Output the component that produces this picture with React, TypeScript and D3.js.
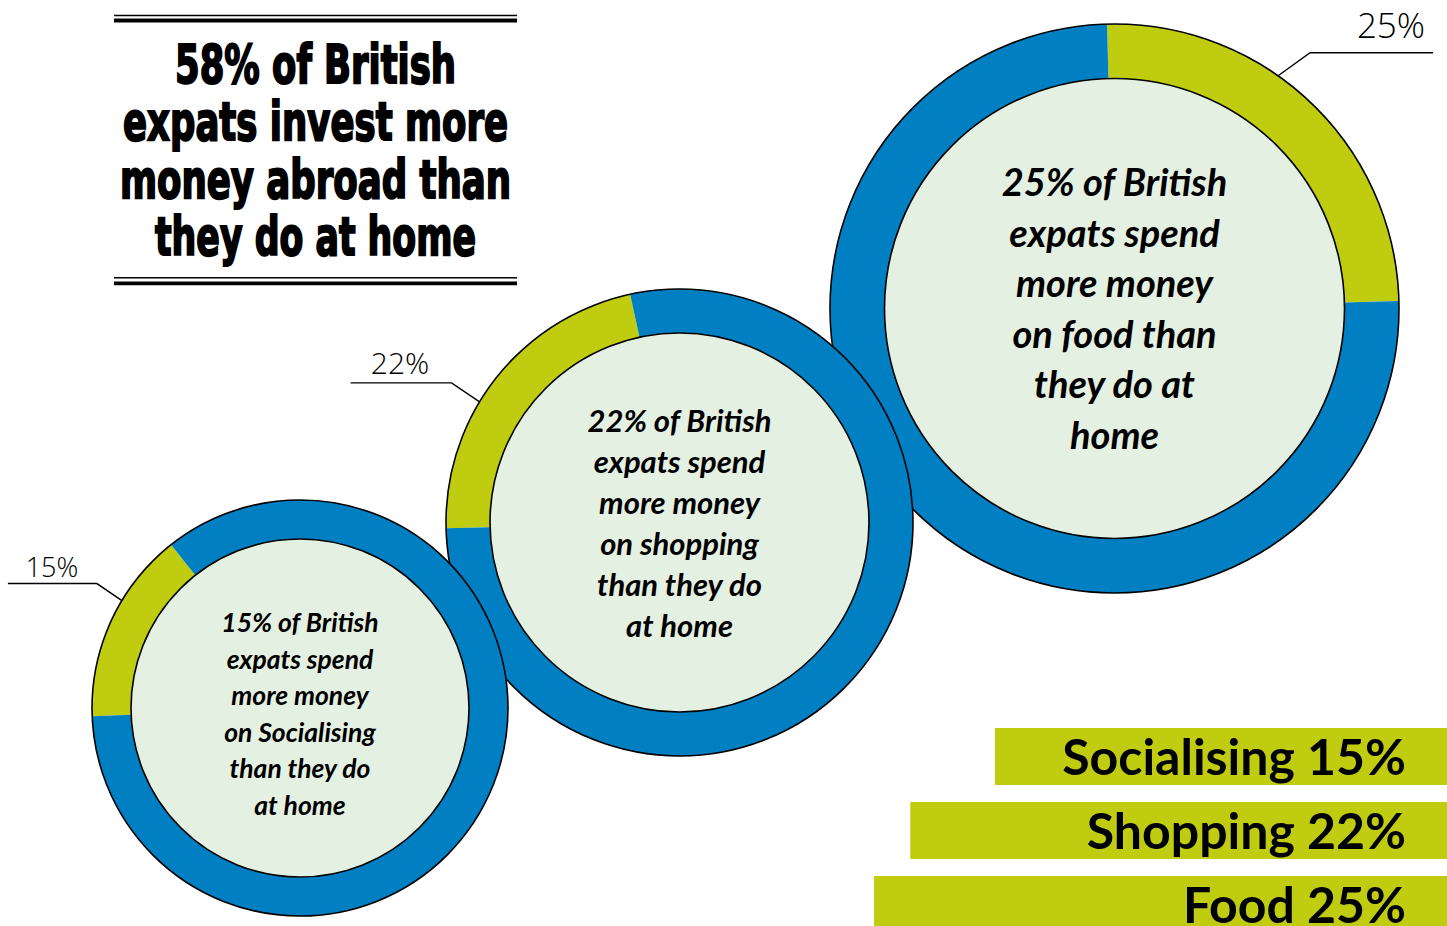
import { useEffect, useRef } from 'react';
import * as d3 from 'd3';

// data
const categories = ["Socialising", "Shopping", "Food"];
const values = [15, 22, 25];
const centreTexts = [
  ["15% of British", "expats spend", "more money", "on Socialising", "than they do", "at home"],
  ["22% of British", "expats spend", "more money", "on shopping", "than they do", "at home"],
  ["25% of British", "expats spend", "more money", "on food than", "they do at", "home"],
];
const titleLines = ["58% of British", "expats invest more", "money abroad than", "they do at home"];

const GREEN = "#BFCC10";
const BLUE = "#0080C3";
const INNER = "#E4F0E1";

// layout of the three donuts (small, middle, large)
const donuts = [
  { cx: 300, cy: 708, outer: 208, inner: 169, start: -92.3, font: 26.5, lineH: 36.5, firstBase: 632, labelAngle: -58.9, elbow: [-25, -17], tail: -89, labelFont: 27, labelX: 52, labelY: 577 },
  { cx: 679.5, cy: 522.5, outer: 233.5, inner: 189.5, start: -91.4, font: 31, lineH: 41, firstBase: 432, labelAngle: -58.9, elbow: [-28, -19], tail: -101, labelFont: 30, labelX: 400, labelY: 374 },
  { cx: 1114.5, cy: 308.5, outer: 284.5, inner: 230, start: -1.5, font: 38, lineH: 50.5, firstBase: 196, labelAngle: 35.1, elbow: [32, -23], tail: 123, labelFont: 35, labelX: 1391, labelY: 38 },
];

export default function App() {
  const svgRef = useRef<SVGSVGElement>(null);

  useEffect(() => {
    if (!svgRef.current) return;
    document.body.style.margin = "0";
    const svg = d3.select(svgRef.current);
    svg.selectAll("*").remove();

    const rad = (deg: number) => (deg * Math.PI) / 180;

    // Draw large first so smaller donuts sit on top
    [2, 1, 0].forEach(i => {
      const d = donuts[i];
      const g = svg.append("g").attr("transform", `translate(${d.cx},${d.cy})`);
      const pie = d3.pie<number>()
        .sort(null)
        .value(v => v)
        .startAngle(rad(d.start))
        .endAngle(rad(d.start) + 2 * Math.PI);
      const arc = d3.arc<d3.PieArcDatum<number>>()
        .innerRadius(d.inner)
        .outerRadius(d.outer);

      g.selectAll("path.seg")
        .data(pie([values[i], 100 - values[i]]))
        .enter()
        .append("path")
        .attr("class", "seg")
        .attr("d", arc)
        .attr("fill", (_, j) => (j === 0 ? GREEN : BLUE));

      g.append("circle")
        .attr("r", d.outer)
        .attr("fill", "none")
        .attr("stroke", "#000")
        .attr("stroke-width", 1.6);

      g.append("circle")
        .attr("r", d.inner)
        .attr("fill", INNER)
        .attr("stroke", "#000")
        .attr("stroke-width", 1.6);

      // centre text
      const t = g.append("text")
        .attr("text-anchor", "middle")
        .attr("font-family", "Lato, 'Open Sans', sans-serif")
        .attr("font-style", "italic")
        .attr("font-weight", "bold")
        .attr("font-size", d.font)
        .attr("fill", "#000");
      centreTexts[i].forEach((line, k) => {
        t.append("tspan")
          .attr("x", 0)
          .attr("y", d.firstBase + k * d.lineH - d.cy)
          .text(line);
      });

      // leader line + percentage label
      const a = rad(d.labelAngle);
      const sx = d.cx + d.outer * Math.sin(a);
      const sy = d.cy - d.outer * Math.cos(a);
      const ex = sx + d.elbow[0];
      const ey = sy + d.elbow[1];
      svg.append("path")
        .attr("d", d3.line()([[sx, sy], [ex, ey], [ex + d.tail, ey]]))
        .attr("fill", "none")
        .attr("stroke", "#000")
        .attr("stroke-width", 1.4);
      svg.append("text")
        .attr("x", d.labelX)
        .attr("y", d.labelY)
        .attr("text-anchor", "middle")
        .attr("font-family", "'Open Sans', 'Noto Sans', sans-serif")
        .attr("font-weight", 300)
        .attr("font-size", d.labelFont)
        .attr("fill", "#000")
        .text(`${values[i]}%`);
    });

    // Title block
    const titleWidths = [281, 385, 391, 321];
    const title = svg.append("g");
    [[15.5, 1.5], [20.5, 3.8], [277.7, 1.5], [283.3, 3.8]].forEach(([y, w]) => {
      title.append("line")
        .attr("x1", 114).attr("x2", 517)
        .attr("y1", y).attr("y2", y)
        .attr("stroke", "#000")
        .attr("stroke-width", w);
    });
    titleLines.forEach((line, k) => {
      title.append("text")
        .attr("x", 315.5 - titleWidths[k] / 2)
        .attr("y", 83 + k * 57.3)
        .attr("textLength", titleWidths[k])
        .attr("lengthAdjust", "spacingAndGlyphs")
        .attr("font-family", "'Liberation Sans Narrow', 'DejaVu Sans Condensed', sans-serif")
        .attr("font-weight", "bold")
        .attr("font-size", 54)
        .attr("stroke", "#000")
        .attr("stroke-width", 2)
        .attr("fill", "#000")
        .text(line);
    });

    // Legend bars
    const barW = d3.scaleLinear().domain([15, 25]).range([452, 573]);
    const barY = d3.scaleLinear().domain([0, 2]).range([728, 876]);
    const legend = svg.append("g");
    categories.forEach((c, i) => {
      legend.append("rect")
        .attr("x", 1447 - barW(values[i]))
        .attr("y", barY(i))
        .attr("width", barW(values[i]) + 10)
        .attr("height", 57)
        .attr("fill", GREEN);
      legend.append("text")
        .attr("x", 1406)
        .attr("y", barY(i) + 47)
        .attr("text-anchor", "end")
        .attr("font-family", "Lato, 'Open Sans', sans-serif")
        .attr("font-weight", "bold")
        .attr("font-size", 50)
        .attr("fill", "#000")
        .text(`${c} ${values[i]}%`);
    });
  }, []);

  return (
    <div>
      <svg ref={svgRef} width={1447} height={926} style={{ display: "block" }} />
    </div>
  );
}
